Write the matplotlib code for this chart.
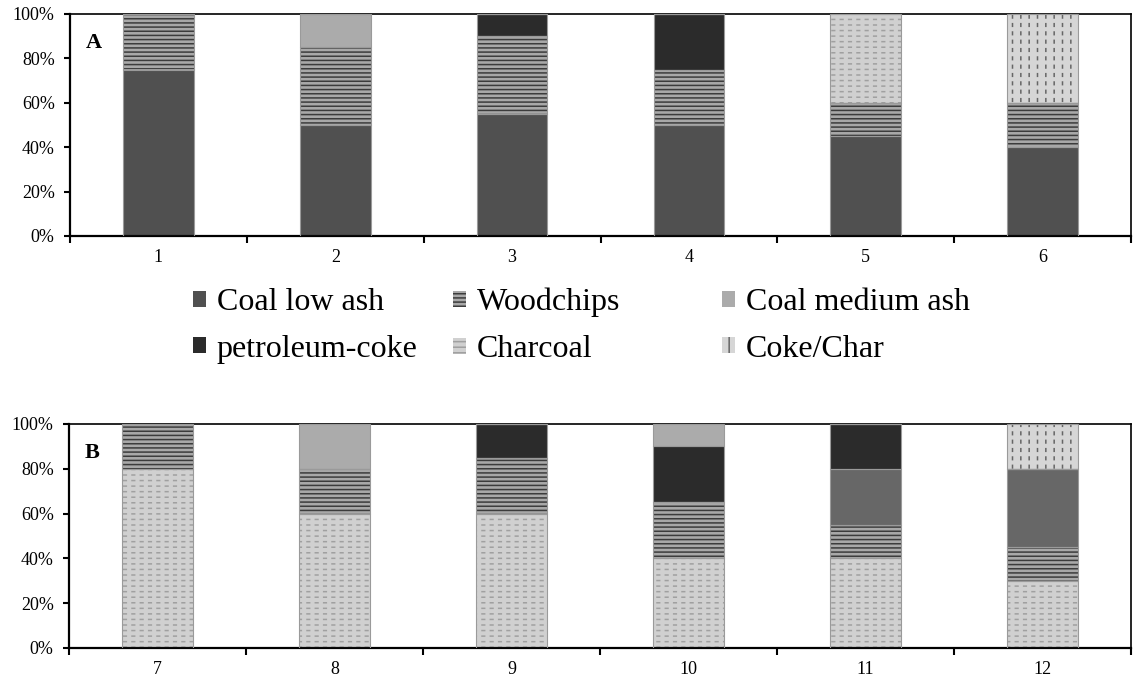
import matplotlib
matplotlib.use("Agg")
import matplotlib.pyplot as plt
from matplotlib.patches import Patch
import numpy as np

plt.rcParams['font.family'] = ['Liberation Serif', 'DejaVu Serif']
plt.rcParams['hatch.linewidth'] = 1.1

# ---------------- data ----------------
cats_a = ['1', '2', '3', '4', '5', '6']
cats_b = ['7', '8', '9', '10', '11', '12']

series_names = ['Coal low ash', 'Woodchips', 'Coal medium ash',
                'petroleum-coke', 'Charcoal', 'Coke/Char']

# Panel A (bottom -> top stacking)
coal_low_a = [75, 50, 55, 50, 45, 40]
wood_a = [25, 35, 35, 25, 15, 20]
coal_med_a = [0, 15, 0, 0, 0, 0]
petcoke_a = [0, 0, 10, 25, 0, 0]
charcoal_a = [0, 0, 0, 0, 40, 0]
cokechar_a = [0, 0, 0, 0, 0, 40]

# Panel B
charcoal_b = [80, 60, 60, 40, 40, 30]
wood_b = [20, 20, 25, 25, 15, 15]
coal_low_b = [0, 0, 0, 0, 25, 35]
petcoke_b = [0, 0, 15, 25, 20, 0]
coal_med_b = [0, 20, 0, 10, 0, 0]
cokechar_b = [0, 0, 0, 0, 0, 20]

# ---------------- styles ----------------
styles = {
    'Coal low ash':    dict(fc='#505050', hatch=None, hc='#505050', brk=None),
    'Woodchips':       dict(fc='#a8a8a8', hatch='----', hc='#3c3c3c', brk=None),
    'Coal medium ash': dict(fc='#ababab', hatch=None, hc='#ababab', brk=None),
    'petroleum-coke':  dict(fc='#2b2b2b', hatch=None, hc='#2b2b2b', brk=None),
    'Charcoal':        dict(fc='#d0d0d0', hatch='---', hc='#a0a0a0', brk='||'),
    'Coke/Char':       dict(fc='#d6d6d6', hatch='||', hc='#666666', brk='--'),
}
coal_low_b_color = '#676767'

fig = plt.figure(figsize=(11.38, 6.8), dpi=100)
ax_a = fig.add_axes([70/1138, (680-236)/680, (1131-70)/1138, (236-14)/680])
ax_b = fig.add_axes([69/1138, (680-648)/680, (1131-69)/1138, (648-424)/680])


def draw_panel(ax, cats, stack, label):
    x = np.arange(1, len(cats) + 1)
    bottom = np.zeros(len(cats))
    for name, vals, color in stack:
        st = styles[name]
        fc = color if color else st['fc']
        hc = color if (color and st['hatch'] is None) else st['hc']
        vals = np.array(vals, dtype=float)
        ax.bar(x, vals, width=0.4, bottom=bottom, color=fc,
               hatch=st['hatch'], edgecolor=hc, linewidth=0, zorder=2)
        if st['brk']:
            bars = ax.bar(x, vals, width=0.4, bottom=bottom, fill=False,
                          hatch=st['brk'], edgecolor=fc, linewidth=0, zorder=2.5)
            for p in bars:
                if hasattr(p, 'set_hatch_linewidth'):
                    p.set_hatch_linewidth(3.0)
        ax.bar(x, vals, width=0.4, bottom=bottom, fill=False,
               edgecolor='#9a9a9a', linewidth=0.8, zorder=3)
        bottom += vals
    ax.set_xlim(0.5, len(cats) + 0.5)
    ax.set_ylim(0, 100)
    ax.set_yticks(np.arange(0, 101, 20))
    ax.set_yticklabels([f'{v}%' for v in range(0, 101, 20)])
    ax.set_xticks(np.arange(0.5, len(cats) + 1, 1.0))
    ax.set_xticklabels([])
    ax.set_xticks(x, minor=True)
    ax.set_xticklabels(cats, minor=True)
    ax.tick_params(axis='x', which='major', direction='out', length=5, width=1.5)
    ax.tick_params(axis='x', which='minor', length=0, pad=9, labelsize=13)
    ax.tick_params(axis='y', direction='out', length=4, width=1.5, labelsize=13, pad=7)
    for sp in ['left', 'bottom']:
        ax.spines[sp].set_linewidth(1.6)
    for sp in ['top', 'right']:
        ax.spines[sp].set_linewidth(1.2)
    ax.text(0.015, 0.87, label, transform=ax.transAxes, fontsize=16,
            fontweight='bold', va='center', ha='left')


draw_panel(ax_a, cats_a, [
    ('Coal low ash', coal_low_a, None),
    ('Woodchips', wood_a, None),
    ('Coal medium ash', coal_med_a, None),
    ('petroleum-coke', petcoke_a, None),
    ('Charcoal', charcoal_a, None),
    ('Coke/Char', cokechar_a, None),
], 'A')

draw_panel(ax_b, cats_b, [
    ('Charcoal', charcoal_b, None),
    ('Woodchips', wood_b, None),
    ('Coal low ash', coal_low_b, coal_low_b_color),
    ('petroleum-coke', petcoke_b, None),
    ('Coal medium ash', coal_med_b, None),
    ('Coke/Char', cokechar_b, None),
], 'B')


def handle(name):
    st = styles[name]
    return Patch(facecolor=st['fc'], hatch=st['hatch'], edgecolor=st['hc'], linewidth=0)


columns = [(['Coal low ash', 'petroleum-coke'], 193),
           (['Woodchips', 'Charcoal'], 453),
           (['Coal medium ash', 'Coke/Char'], 722)]
for names, xpx in columns:
    fig.legend(handles=[handle(n) for n in names], labels=names,
               loc='center left', bbox_to_anchor=(xpx/1138, 1 - 326/680),
               frameon=False, fontsize=23, handlelength=0.4, handleheight=0.4,
               handletextpad=0.35, labelspacing=0.55, borderpad=0, borderaxespad=0)

fig.savefig('out.png', dpi=100)
